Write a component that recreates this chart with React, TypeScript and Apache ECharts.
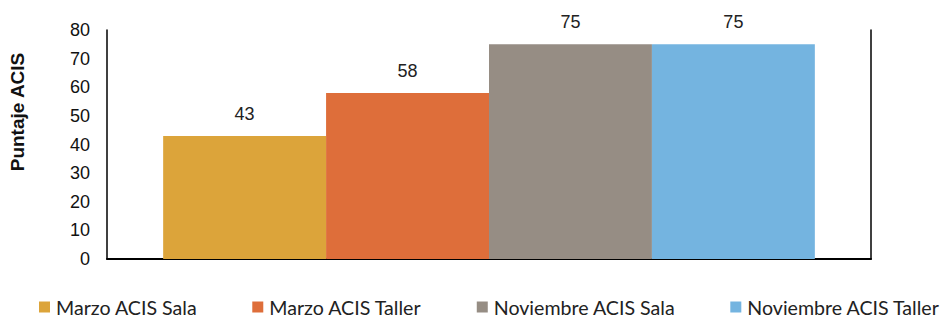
import React, { useEffect, useRef } from "react";
import * as echarts from "echarts";

const seriesNames = ["Marzo ACIS Sala", "Marzo ACIS Taller", "Noviembre ACIS Sala", "Noviembre ACIS Taller"];
const seriesValues = [43, 58, 75, 75];
const seriesColors = ["#DCA43A", "#DE6E3A", "#968D84", "#74B4E0"];
const categories = [""];
const yTicks = { min: 0, max: 80, interval: 10 };
const yAxisTitle = "Puntaje ACIS";

export default function App() {
  const ref = useRef<HTMLDivElement>(null);
  useEffect(() => {
    if (!ref.current) return;
    const chart = echarts.init(ref.current, undefined, { renderer: "svg" });
    chart.setOption({
      animation: false,
      backgroundColor: "#ffffff",
      grid: { left: 107, right: 75, top: 30, bottom: 61, containLabel: false },
      legend: {
        top: 296,
        left: 39,
        width: 930,
        padding: 0,
        itemWidth: 11,
        itemHeight: 11,
        itemGap: 55,
        icon: "rect",
        textStyle: { fontFamily: "Lato", fontSize: 19.6, lineHeight: 22, color: "#222", padding: [0, 0, 0, 1] },
        data: seriesNames,
      },
      graphic: [
        {
          type: "text",
          x: 17,
          y: 112,
          rotation: Math.PI / 2,
          style: {
            text: yAxisTitle,
            fontFamily: "Liberation Sans",
            fontWeight: "bold",
            fontSize: 19,
            fill: "#111",
            align: "center",
            verticalAlign: "middle",
          },
        },
      ],
      xAxis: {
        type: "category",
        data: categories,
        axisLine: { show: true, lineStyle: { color: "#000", width: 2 } },
        axisTick: { show: false },
        axisLabel: { show: false },
      },
      yAxis: [
        {
          type: "value",
          min: yTicks.min,
          max: yTicks.max,
          interval: yTicks.interval,
          axisLine: { show: true, lineStyle: { color: "#000", width: 1.5 } },
          axisTick: { show: false },
          splitLine: { show: false },
          axisLabel: { fontFamily: "Liberation Sans", fontSize: 18, color: "#111", margin: 17 },
        },
        {
          type: "value",
          position: "right",
          min: yTicks.min,
          max: yTicks.max,
          interval: yTicks.interval,
          axisLine: { show: true, lineStyle: { color: "#000", width: 1.5 } },
          axisTick: { show: false },
          splitLine: { show: false },
          axisLabel: { show: false },
        },
      ],
      series: seriesNames.map((name, i) => ({
        name,
        type: "bar",
        yAxisIndex: 0,
        data: [seriesValues[i]],
        barGap: "0%",
        barCategoryGap: "14.7%",
        itemStyle: { color: seriesColors[i] },
        label: {
          show: true,
          position: "top",
          distance: 13,
          fontFamily: "Liberation Sans",
          fontSize: 18,
          color: "#222",
        },
      })),
    });
    return () => chart.dispose();
  }, []);
  return (
    <div
      ref={ref}
      style={{ position: "absolute", left: 0, top: 0, width: 946, height: 320 }}
    />
  );
}
